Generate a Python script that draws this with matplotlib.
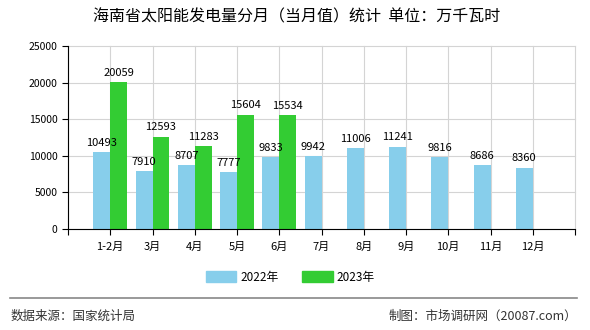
import matplotlib
matplotlib.use("Agg")
import matplotlib.pyplot as plt
from matplotlib.patches import Patch

plt.rcParams['font.family'] = ['Noto Sans CJK SC', 'DejaVu Sans']

categories = ['1-2月', '3月', '4月', '5月', '6月', '7月', '8月', '9月', '10月', '11月', '12月']
values_2022 = [10493, 7910, 8707, 7777, 9833, 9942, 11006, 11241, 9816, 8686, 8360]
values_2023 = [20059, 12593, 11283, 15604, 15534]
series_names = ['2022年', '2023年']
yticks = [0, 5000, 10000, 15000, 20000, 25000]
title = '海南省太阳能发电量分月（当月值）统计  单位：万千瓦时'
source = '数据来源：国家统计局'
credit = '制图：市场调研网（20087.com）'

c22 = '#87CEEB'
c23 = '#33CC33'

fig = plt.figure(figsize=(5.9, 3.3), dpi=100)
ax = fig.add_axes([68/590, 1-229/330, (575-68)/590, (229-46)/330])

w = 0.4
x22 = [i + 1 - w/2 for i in range(len(values_2022))]
x23 = [i + 1 + w/2 for i in range(len(values_2023))]
ax.bar(x22, values_2022, width=w, color=c22, zorder=2)
ax.bar(x23, values_2023, width=w, color=c23, zorder=2)

for x, v in zip(x22, values_2022):
    ax.text(x, v + 600, str(v), ha='center', va='bottom', fontsize=8, color='#000000')
for x, v in zip(x23, values_2023):
    ax.text(x, v + 600, str(v), ha='center', va='bottom', fontsize=8, color='#000000')

ax.set_xlim(0, 12)
ax.set_ylim(0, 25000)
ax.set_yticks(yticks)
ax.set_yticklabels([str(t) for t in yticks], fontsize=7.5)
ax.set_xticks(range(0, 13))
ax.set_xticklabels([''] + categories + [''], fontsize=8)
ax.grid(True, color='#d4d4d4', linewidth=0.8, zorder=0, clip_on=False)
ax.set_axisbelow(True)
for s in ['top', 'right']:
    ax.spines[s].set_visible(False)
ax.spines['left'].set_color('black')
ax.spines['bottom'].set_color('black')
ax.tick_params(axis='both', direction='out', length=4, width=0.8, colors='black')
ax.tick_params(axis='x', pad=5)

fig.text(297/590, 1-17/330, title, ha='center', va='center', fontsize=11.5)

handles = [Patch(color=c22), Patch(color=c23)]
fig.legend(handles, series_names, loc='center', bbox_to_anchor=(290/590, 1-277/330),
           ncol=2, frameon=False, fontsize=8.5, handlelength=2.6, handleheight=1.0,
           columnspacing=2.0, handletextpad=0.3)

fig.add_artist(plt.Line2D([10/590, 577/590], [1-298/330, 1-298/330], color='#888888', linewidth=1.2))
fig.text(11/590, 1-316/330, source, ha='left', va='center', fontsize=9, color='#333333')
fig.text(577/590, 1-316/330, credit, ha='right', va='center', fontsize=9, color='#333333')

fig.savefig('out.png', dpi=100)
